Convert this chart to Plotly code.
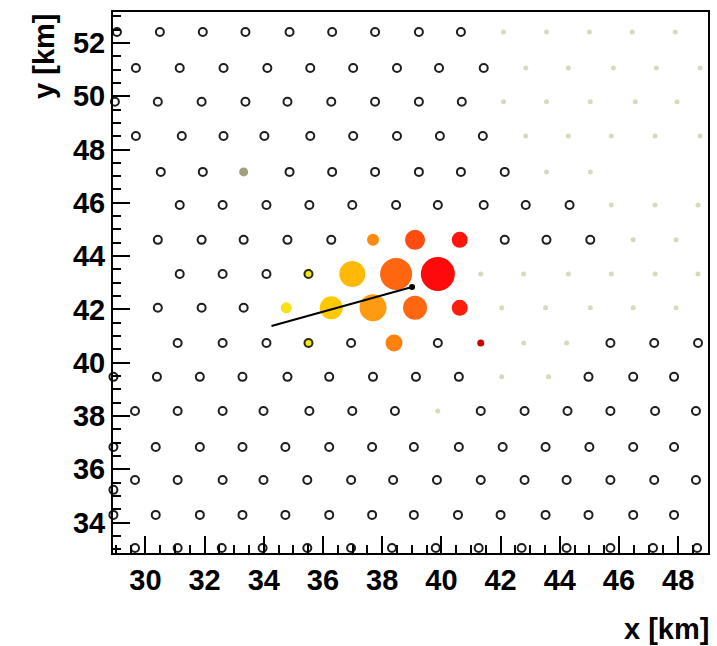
import plotly.graph_objects as go

# ---------------- data (km) ----------------
row_y = [52.41, 51.06, 49.79, 48.51, 47.16, 45.92, 44.61, 43.33,
         42.06, 40.74, 39.47, 38.19, 36.84, 35.60, 34.29, 33.05]

open_x_rows = [
    [29.04, 30.49, 31.94, 33.38, 34.87, 36.31, 37.76, 39.24, 40.66],
    [29.68, 31.16, 32.64, 34.12, 35.57, 37.02, 38.50, 39.92, 41.43],
    [28.97, 30.42, 31.90, 33.38, 34.80, 36.28, 37.76, 39.24, 40.69],
    [29.68, 31.23, 32.64, 34.02, 35.57, 37.02, 38.50, 39.95, 41.40],
    [30.52, 31.94, 34.87, 36.31, 37.76, 39.24, 40.66, 42.14],
    [31.16, 32.61, 34.09, 35.54, 36.99, 38.47, 39.88, 41.43, 42.85, 44.33],
    [30.42, 31.90, 33.32, 34.80, 36.28, 42.14, 43.55, 45.03],
    [31.16, 32.61, 34.09],
    [30.42, 31.90, 33.32],
    [31.09, 32.61, 34.09, 36.95, 39.88, 45.71, 47.19, 48.67],
    [28.92, 30.39, 31.84, 33.28, 34.80, 36.21, 37.69, 39.14, 40.59, 44.97, 46.48, 47.86],
    [29.65, 31.09, 32.61, 33.99, 35.54, 36.99, 38.43, 41.33, 42.81, 44.26, 45.71, 47.22, 48.60],
    [28.92, 30.35, 31.84, 33.28, 34.73, 36.21, 37.66, 39.07, 40.59, 42.07, 43.52, 45.00, 46.48, 47.86],
    [29.65, 31.09, 32.61, 33.99, 35.47, 36.95, 38.37, 39.85, 41.33, 42.81, 44.23, 45.71, 47.19, 48.60],
    [28.92, 30.35, 31.84, 33.28, 34.73, 36.21, 37.66, 39.07, 40.56, 42.00, 43.52, 44.97, 46.48, 47.86],
    [29.65, 31.09, 32.58, 33.96, 35.47, 36.95, 38.33, 39.81, 41.26, 42.71, 44.23, 45.71, 47.15, 48.64],
]

faint_x_rows = [
    [42.10, 43.55, 45.00, 46.45, 47.90],
    [42.85, 44.29, 45.81, 47.26, 48.74],
    [42.10, 43.55, 45.03, 46.55, 47.96],
    [42.85, 44.29, 45.74, 47.22, 48.74],
    [43.55, 45.03],
    [45.74, 47.22, 48.67],
    [46.48, 47.93],
    [41.33, 42.78, 44.29, 45.74, 47.22, 48.67],
    [42.04, 43.52, 45.03, 46.48, 47.93],
    [42.78, 44.23],
    [42.04, 43.62],
    [39.88],
    [],
    [],
    [],
    [],
]

extra_open_x = [28.92]
extra_open_y = [35.23]

bad_x = [33.32]
bad_y = [47.16]

hit_x = [37.69, 39.11, 40.62, 35.51, 36.99, 38.47, 39.88, 34.76, 36.28,
         37.69, 39.11, 40.62, 35.51, 38.40, 41.33]
hit_y = [44.61, 44.61, 44.61, 43.33, 43.33, 43.33, 43.33, 42.06, 42.06,
         42.06, 42.06, 42.06, 40.74, 40.74, 40.74]
hit_signal = [12, 20, 16, 8, 26, 32, 34, 11, 23, 27, 24, 16, 8, 17, 7]
hit_time = [0.52, 0.74, 0.90, 0.04, 0.30, 0.66, 0.93, 0.08, 0.22,
            0.45, 0.66, 0.88, 0.04, 0.55, 1.00]
hit_edge = [0, 0, 0, 1, 0, 0, 0, 0, 0, 0, 0, 0, 1, 0, 0]

axis_x = [34.26, 39.01]
axis_y = [41.38, 42.84]

x_ticks = [30, 32, 34, 36, 38, 40, 42, 44, 46, 48]
y_ticks = [34, 36, 38, 40, 42, 44, 46, 48, 50, 52]

# ---------------- build ----------------
ox, oy, fx, fy = [], [], [], []
for yv, xs in zip(row_y, open_x_rows):
    ox += xs
    oy += [yv] * len(xs)
for yv, xs in zip(row_y, faint_x_rows):
    fx += xs
    fy += [yv] * len(xs)
ox += extra_open_x
oy += extra_open_y

FONT = "Liberation Sans"

fig = go.Figure()

fig.add_trace(go.Scatter(
    x=fx, y=fy, mode="markers",
    marker=dict(symbol="circle", size=5, color="rgb(215,218,188)", opacity=1),
    hoverinfo="skip", showlegend=False))

fig.add_trace(go.Scatter(
    x=ox, y=oy, mode="markers",
    marker=dict(symbol="circle-open", size=8, color="#1e1e1e", opacity=1,
                line=dict(width=2, color="#1e1e1e")),
    hoverinfo="skip", showlegend=False, cliponaxis=False))

fig.add_trace(go.Scatter(
    x=bad_x, y=bad_y, mode="markers",
    marker=dict(symbol="circle", size=9, color="rgb(160,158,125)", opacity=1),
    hoverinfo="skip", showlegend=False))

colorscale = [
    [0.0, "rgb(240,240,40)"],
    [0.2, "rgb(255,205,0)"],
    [0.45, "rgb(255,155,16)"],
    [0.65, "rgb(255,105,16)"],
    [0.85, "rgb(255,40,16)"],
    [0.93, "rgb(255,10,10)"],
    [1.0, "rgb(200,0,0)"],
]
fig.add_trace(go.Scatter(
    x=hit_x, y=hit_y, mode="markers",
    marker=dict(symbol="circle", size=hit_signal, sizemode="diameter",
                opacity=1,
                color=hit_time, colorscale=colorscale, cmin=0, cmax=1,
                line=dict(width=[2 if e else 0 for e in hit_edge],
                          color="#2a2a00")),
    hoverinfo="skip", showlegend=False))

fig.add_trace(go.Scatter(
    x=axis_x, y=axis_y, mode="lines",
    line=dict(color="black", width=2),
    hoverinfo="skip", showlegend=False))
fig.add_trace(go.Scatter(
    x=axis_x[-1:], y=axis_y[-1:], mode="markers",
    marker=dict(symbol="circle", size=6, color="black"),
    hoverinfo="skip", showlegend=False))

axis_common = dict(
    showgrid=False, zeroline=False, showline=True, linecolor="black",
    linewidth=2, mirror=True, ticks="inside", ticklen=17, tickwidth=2,
    tickcolor="black",
    tickfont=dict(family=FONT, size=29, color="black", weight="bold"),
    minor=dict(ticks="inside", ticklen=8, tickwidth=1.5, tickcolor="black",
               dtick=0.5, showgrid=False),
)

fig.update_layout(
    width=717, height=646,
    margin=dict(l=113, r=7, t=12, b=93),
    paper_bgcolor="white", plot_bgcolor="white",
    xaxis=dict(range=[28.906, 49.007], tickvals=x_ticks,
               ticktext=[str(v) for v in x_ticks], **axis_common),
    yaxis=dict(range=[32.86, 53.16], tickvals=y_ticks,
               ticktext=[str(v) for v in y_ticks], **axis_common),
    annotations=[
        dict(text="x [km]", xref="paper", yref="paper", x=1.005, y=-0.14,
             xanchor="right", yanchor="middle", showarrow=False,
             font=dict(family=FONT, size=29, color="black", weight="bold")),
        dict(text="y [km]", xref="paper", yref="paper", x=-0.117, y=1.0,
             xanchor="center", yanchor="top", textangle=-90, showarrow=False,
             font=dict(family=FONT, size=29, color="black", weight="bold")),
    ],
)

fig.write_html("out.html")
